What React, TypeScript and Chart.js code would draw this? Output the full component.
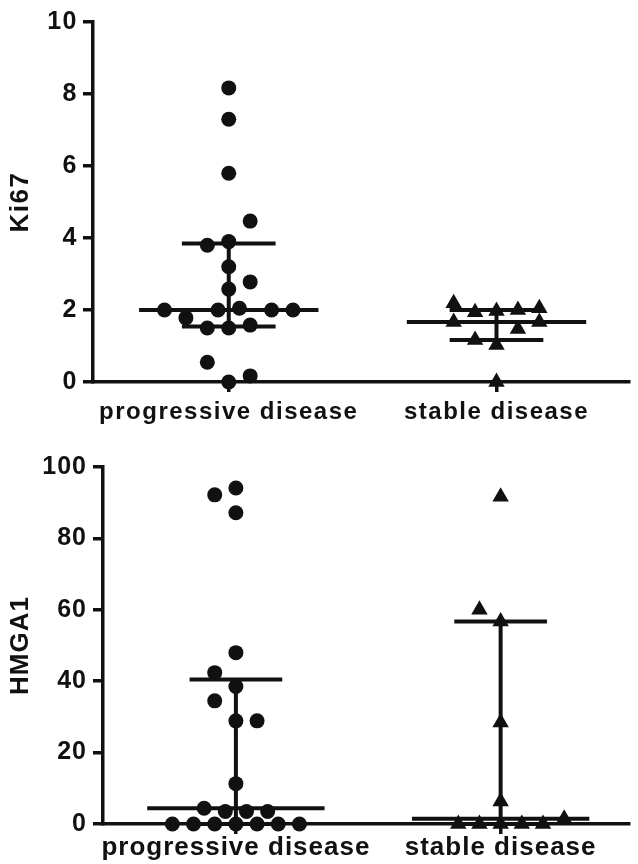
import React, { useEffect, useRef } from 'react';
import { Chart, registerables } from 'chart.js';

Chart.register(...registerables);

const categories = ['progressive disease', 'stable disease'];

const ki67Ticks = [0, 2, 4, 6, 8, 10];
const hmgaTicks = [0, 20, 40, 60, 80, 100];

// Ki67 — progressive disease (values and swarm column index)
const ki67Progressive = [8.17, 7.3, 5.8, 4.47, 3.9, 3.8, 3.2, 2.78, 2.58, 2.0, 2.0, 2.05, 2.0, 2.0, 1.78, 1.5, 1.5, 1.58, 0.55, 0.17, 0];
const ki67ProgressiveCols = [0, 0, 0, 1, 0, -1, 0, 1, 0, -3, -0.5, 0.5, 2, 3, -2, -1, 0, 1, -1, 1, 0];

// Ki67 — stable disease
const ki67Stable = [2.19, 1.94, 1.97, 2.0, 2.05, 1.67, 1.67, 1.47, 1.17, 1.03, 0];
const ki67StableCols = [-2, -1, 0, 1, 2, -2, 2, 1, -1, 0, 0];

// HMGA1 — progressive disease
const hmgaProgressive = [94.1, 92.2, 87.2, 48, 42.4, 38.5, 34.5, 28.9, 28.9, 11.3, 4.4, 3.5, 3.5, 3.5, 0, 0, 0, 0, 0, 0, 0];
const hmgaProgressiveCols = [0, -1, 0, 0, -1, 0, -1, 0, 1, 0, -1.5, -0.5, 0.5, 1.5, -3, -2, -1, 0, 1, 2, 3];

// HMGA1 — stable disease
const hmgaStable = [91.7, 60, 56.7, 28.4, 6.3, 1.5, 0, 0, 0, 0, 0];
const hmgaStableCols = [0, -1, 0, 0, 0, 3, -2, -1, 0, 1, 2];

const INK = '#111111';
const FAMILY = '"Liberation Sans", Arial, Helvetica, sans-serif';
const STEP = 0.08;
const MED_HALF = 0.335;
const IQR_HALF = 0.175;

// GraphPad-style quantile: rank (n+1)p with linear interpolation
function quantile(values: number[], p: number): number {
  const s = [...values].sort((a, b) => a - b);
  const n = s.length;
  let r = (n + 1) * p;
  if (r < 1) r = 1;
  if (r > n) r = n;
  const lo = Math.floor(r);
  const hi = Math.ceil(r);
  const f = r - lo;
  return s[lo - 1] + (s[hi - 1] - s[lo - 1]) * f;
}

type Group = { values: number[]; cols: number[]; style: 'circle' | 'triangle'; radius: number };

function buildDatasets(groups: Group[]) {
  const ds: any[] = [];
  groups.forEach((g, i) => {
    const c = i + 1;
    const med = quantile(g.values, 0.5);
    const q1 = quantile(g.values, 0.25);
    const q3 = quantile(g.values, 0.75);
    const lineBase = {
      showLine: true,
      borderColor: INK,
      borderWidth: 4,
      pointRadius: 0,
      pointHoverRadius: 0,
      clip: false,
      fill: false,
    };
    ds.push({ ...lineBase, data: [{ x: c - MED_HALF, y: med }, { x: c + MED_HALF, y: med }] });
    ds.push({ ...lineBase, data: [{ x: c - IQR_HALF, y: q1 }, { x: c + IQR_HALF, y: q1 }] });
    ds.push({ ...lineBase, data: [{ x: c - IQR_HALF, y: q3 }, { x: c + IQR_HALF, y: q3 }] });
    ds.push({ ...lineBase, data: [{ x: c, y: q1 }, { x: c, y: q3 }] });
    ds.push({
      data: g.values.map((v, k) => ({ x: c + g.cols[k] * STEP, y: v })),
      showLine: false,
      pointStyle: g.style,
      pointRadius: g.radius,
      pointHoverRadius: g.radius,
      backgroundColor: INK,
      borderColor: INK,
      borderWidth: 0,
      clip: false,
    });
  });
  return ds;
}

type PanelProps = {
  height: number;
  title: string;
  ticks: number[];
  groups: Group[];
  padTop: number;
  yWidth: number;
  xHeight: number;
  xMin: number;
  xMax: number;
  tickFont: number;
  catFont: number;
  catPad: number;
  yPad: number;
  spacing: string;
};

function Panel(p: PanelProps) {
  const ref = useRef<HTMLCanvasElement | null>(null);
  useEffect(() => {
    if (!ref.current) return;
    const spacingPlugin = {
      id: 'letterSpacing',
      beforeDraw(chart: any) {
        chart.ctx.letterSpacing = p.spacing;
      },
    };
    const chart = new Chart(ref.current, {
      type: 'scatter',
      data: { datasets: buildDatasets(p.groups) },
      plugins: [spacingPlugin],
      options: {
        animation: false,
        responsive: false,
        events: [],
        layout: { padding: { top: p.padTop, right: 1, bottom: 0, left: 0 } },
        plugins: { legend: { display: false }, tooltip: { enabled: false } },
        scales: {
          x: {
            type: 'linear',
            min: p.xMin,
            max: p.xMax,
            afterBuildTicks: (s: any) => {
              s.ticks = categories.map((_, i) => ({ value: i + 1 }));
            },
            afterFit: (s: any) => {
              s.height = p.xHeight;
            },
            ticks: {
              autoSkip: false,
              maxRotation: 0,
              padding: p.catPad,
              color: INK,
              font: { family: FAMILY, size: p.catFont, weight: 'bold', lineHeight: 1 },
              callback: (v: any) => categories[Math.round(Number(v)) - 1] ?? '',
            },
            grid: {
              display: true,
              drawOnChartArea: false,
              drawTicks: true,
              tickLength: 10,
              lineWidth: 3.5,
              color: INK,
            },
            border: { display: true, width: 3.5, color: INK },
          },
          y: {
            type: 'linear',
            min: p.ticks[0],
            max: p.ticks[p.ticks.length - 1],
            afterBuildTicks: (s: any) => {
              s.ticks = p.ticks.map((v) => ({ value: v }));
            },
            afterFit: (s: any) => {
              s.width = p.yWidth;
            },
            ticks: {
              padding: p.yPad,
              color: INK,
              font: { family: FAMILY, size: p.tickFont, weight: 'bold' },
            },
            grid: {
              display: true,
              drawOnChartArea: false,
              drawTicks: true,
              tickLength: 10,
              lineWidth: 3.5,
              color: INK,
            },
            border: { display: true, width: 3.5, color: INK },
            title: {
              display: true,
              text: p.title,
              color: INK,
              font: { family: FAMILY, size: 26, weight: 'bold' },
              padding: { top: 5, bottom: 0 },
            },
          },
        },
      } as any,
    });
    return () => chart.destroy();
  }, []);
  return <canvas ref={ref} width={638} height={p.height} style={{ display: 'block' }} />;
}

export default function App() {
  return (
    <div style={{ position: 'absolute', left: 0, top: 0, width: 638, height: 864, background: '#fff' }}>
      <Panel
        height={432}
        title="Ki67"
        ticks={ki67Ticks}
        groups={[
          { values: ki67Progressive, cols: ki67ProgressiveCols, style: 'circle', radius: 7.5 },
          { values: ki67Stable, cols: ki67StableCols, style: 'triangle', radius: 9.5 },
        ]}
        padTop={22}
        yWidth={93}
        xHeight={50}
        xMin={0.493}
        xMax={2.493}
        tickFont={25}
        catFont={24}
        catPad={8}
        yPad={5}
        spacing="1.5px"
      />
      <Panel
        height={432}
        title="HMGA1"
        ticks={hmgaTicks}
        groups={[
          { values: hmgaProgressive, cols: hmgaProgressiveCols, style: 'circle', radius: 7.5 },
          { values: hmgaStable, cols: hmgaStableCols, style: 'triangle', radius: 9.5 },
        ]}
        padTop={35}
        yWidth={103}
        xHeight={40}
        xMin={0.498}
        xMax={2.483}
        tickFont={25}
        catFont={26}
        catPad={1}
        yPad={6}
        spacing="1px"
      />
    </div>
  );
}
